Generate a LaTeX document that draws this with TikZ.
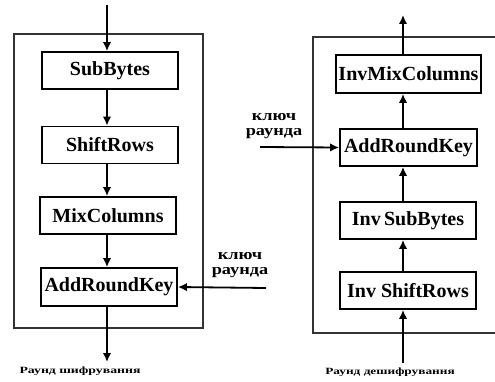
\documentclass[tikz,border=0pt]{standalone}
\usepackage{fontspec}
\setmainfont{Liberation Serif}
\usetikzlibrary{arrows.meta}
\begin{document}
\begin{tikzpicture}[x=1pt,y=-1pt,
  opbox/.style={draw=black,line width=1.8pt,minimum height=37pt,minimum width=136pt,inner sep=0pt,
    font=\fontsize{20}{21}\selectfont\bfseries},
  frame/.style={draw=black!80,line width=1.6pt},
  flow/.style={line width=1.8pt,-{Latex[length=9pt,width=8.5pt]}},
  keytext/.style={align=center,font=\fontsize{15}{15}\selectfont\bfseries,inner sep=0pt},
  captext/.style={font=\fontsize{9.5}{10}\selectfont\bfseries,inner sep=0pt}]
\useasboundingbox (0,0) rectangle (495,382);
% left frame
\draw[frame] (14,34) rectangle (203,328);
\node[opbox] (sb) at (110,70.5) {SubBytes};
\node[opbox] (sr) at (110,145) {ShiftRows};
\node[opbox] (mc) at (108,215.5) {MixColumns};
\node[opbox,minimum height=38pt] (ark) at (109,287) {AddRoundKey};
\coordinate (lx) at (107,0);
\coordinate (lin) at (107,5);
\coordinate (lout) at (107,362);
\draw[flow] (lin) -- (sb.north -| lx);
\draw[flow] (sb.south -| lx) -- (sr.north -| lx);
\draw[flow] (sr.south -| lx) -- (mc.north -| lx);
\draw[flow] (mc.south -| lx) -- (ark.north -| lx);
\draw[flow] (ark.south -| lx) -- (lout);
\node[captext] (lcap) at (80,371) {\scalebox{1.45}[1]{Раунд шифрування}};
\node[keytext] (lkey) at (240,265) {\scalebox{1.22}[1]{ключ}\\\scalebox{1.22}[1]{раунда}};
\coordinate (lkin) at (266,288);
\draw[flow] (lkin) -- (ark.east);
% right frame
\draw[frame] (495,37) -- (313,37) -- (313,333) -- (495,333);
\node[opbox,minimum width=145pt,minimum height=38pt] (imc) at (408.5,74) {InvMixColumns};
\node[opbox,minimum width=137pt] (ark2) at (408.5,147.5) {AddRoundKey};
\node[opbox] (isb) at (408,220.5) {Inv\,SubBytes};
\node[opbox] (isr) at (408,290.5) {Inv ShiftRows};
\coordinate (rx) at (403,0);
\coordinate (rin) at (403,363);
\coordinate (rout) at (403,15);
\draw[flow] (rin) -- (isr.south -| rx);
\draw[flow] (isr.north -| rx) -- (isb.south -| rx);
\draw[flow] (isb.north -| rx) -- (ark2.south -| rx);
\draw[flow] (ark2.north -| rx) -- (imc.south -| rx);
\draw[flow] (imc.north -| rx) -- (rout);
\node[captext] (rcap) at (390,372) {\scalebox{1.4}[1]{Раунд дешифрування}};
\node[keytext] (rkey) at (274,126) {\scalebox{1.22}[1]{ключ}\\\scalebox{1.22}[1]{раунда}};
\coordinate (rkin) at (260,147);
\draw[flow] (rkin) -- (ark2.west);
\end{tikzpicture}
\end{document}
